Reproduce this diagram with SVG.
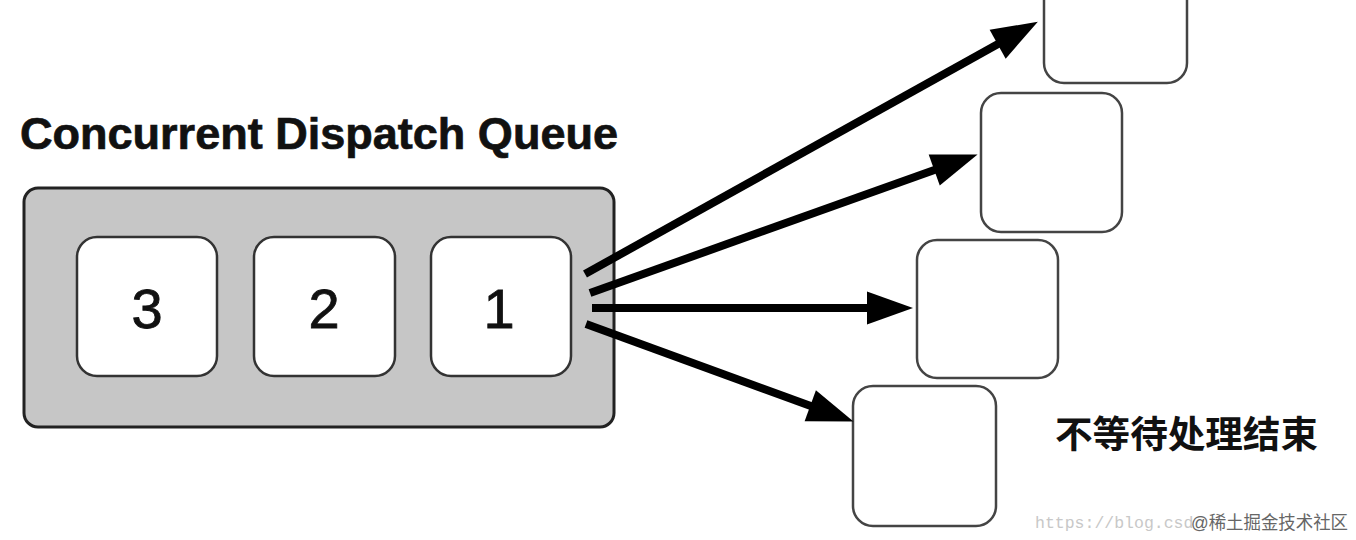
<svg xmlns="http://www.w3.org/2000/svg" width="1356" height="540" viewBox="0 0 1356 540">
<style>
.task{fill:#fff;stroke:#333;stroke-width:2.5}
.out{fill:#fff;stroke:#444;stroke-width:2.5}
.num{font-family:"Liberation Sans",Arial,sans-serif;font-size:56px;fill:#111;stroke:#111;stroke-width:0.8;text-anchor:middle}
.arr{stroke:#000;stroke-width:8;fill:none;marker-end:url(#head)}
</style>
<defs>
<marker id="head" markerUnits="userSpaceOnUse" markerWidth="48" markerHeight="34" refX="21" refY="16.5" orient="auto" overflow="visible">
<path d="M0,0 L46,16.5 L0,33 Z" fill="#000"/>
</marker>
</defs>
<rect width="1356" height="540" fill="#fff"/>
<g id="title">
<text x="20" y="149" font-family="'Liberation Sans',Arial,sans-serif" font-size="44" font-weight="bold" fill="#111" stroke="#111" stroke-width="0.7" textLength="598" lengthAdjust="spacingAndGlyphs">Concurrent Dispatch Queue</text>
</g>
<g id="queue">
<rect x="24" y="188" width="590" height="239" rx="14" fill="#c6c6c6" stroke="#222" stroke-width="3"/>
</g>
<g id="task3">
<rect class="task" x="77" y="237" width="140" height="139" rx="20"/>
<text class="num" x="147" y="328">3</text>
</g>
<g id="task2">
<rect class="task" x="254" y="237" width="141" height="139" rx="20"/>
<text class="num" x="324" y="328">2</text>
</g>
<g id="task1">
<rect class="task" x="431" y="237" width="140" height="139" rx="20"/>
<text class="num" x="499" y="328">1</text>
</g>
<g id="outA"><rect class="out" x="1044" y="-58" width="143" height="141" rx="20"/></g>
<g id="outB"><rect class="out" x="981" y="93" width="141" height="139" rx="20"/></g>
<g id="outC"><rect class="out" x="917" y="240" width="141" height="138" rx="20"/></g>
<g id="outD"><rect class="out" x="853" y="386" width="143" height="140" rx="20"/></g>
<g id="connectors">
<line class="arr" x1="585" y1="274" x2="1016" y2="34"/>
<line class="arr" x1="590" y1="293" x2="954" y2="163"/>
<line class="arr" x1="592" y1="308" x2="888" y2="308"/>
<line class="arr" x1="586" y1="324" x2="830" y2="413"/>
</g>
<g id="label">
<text x="1055" y="448" font-family="'Noto Sans CJK SC',sans-serif" font-size="37" font-weight="bold" fill="#111" textLength="263" lengthAdjust="spacingAndGlyphs">不等待处理结束</text>
</g>
<g id="watermark">
<text x="1035" y="528" font-family="'Liberation Mono',monospace" font-size="16.5" fill="#c8c8c8">https://blog.csd</text>
<text x="1191" y="529" font-family="'Liberation Sans','Noto Sans CJK SC',sans-serif" font-size="18" fill="#666" textLength="157" lengthAdjust="spacingAndGlyphs">@稀土掘金技术社区</text>
</g>
</svg>
